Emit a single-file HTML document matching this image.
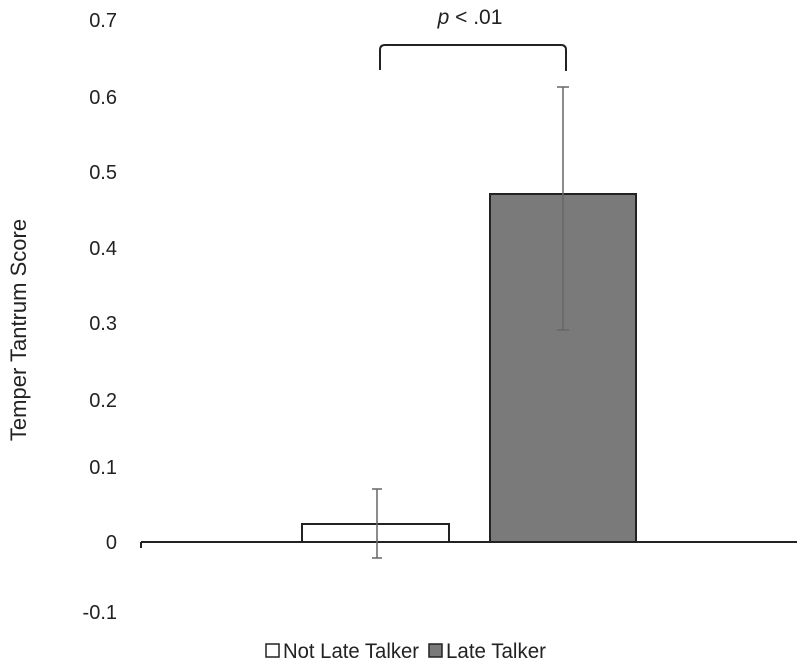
<!DOCTYPE html>
<html><head><style>body{margin:0;background:#fff}svg{display:block}</style></head><body>
<svg width="800" height="670" xmlns="http://www.w3.org/2000/svg" font-family="Liberation Sans, Arial, sans-serif" fill="#222">
<g font-size="20" text-anchor="end">
<text x="117" y="27">0.7</text>
<text x="117" y="104">0.6</text>
<text x="117" y="179">0.5</text>
<text x="117" y="255">0.4</text>
<text x="117" y="330">0.3</text>
<text x="117" y="407">0.2</text>
<text x="117" y="474">0.1</text>
<text x="117" y="549">0</text>
<text x="117" y="619">-0.1</text>
</g>
<text transform="translate(26,330) rotate(-90)" font-size="22" text-anchor="middle">Temper Tantrum Score</text>
<rect x="302" y="524" width="147" height="18" fill="#fff" stroke="#222" stroke-width="2"/>
<rect x="490" y="194" width="146" height="348" fill="#7a7a7a" stroke="#222" stroke-width="2"/>
<line x1="141" y1="542" x2="797" y2="542" stroke="#222" stroke-width="2"/>
<line x1="141" y1="542" x2="141" y2="548" stroke="#222" stroke-width="2"/>
<g stroke="#666" stroke-width="1.5">
<line x1="377" y1="489" x2="377" y2="558"/><line x1="372" y1="489" x2="382" y2="489"/><line x1="372" y1="558" x2="382" y2="558"/>
<line x1="563" y1="87" x2="563" y2="330"/><line x1="557" y1="87" x2="569" y2="87"/><line x1="557" y1="330" x2="569" y2="330"/>
</g>
<path d="M380 70 V50 Q380 45 385 45 H561 Q566 45 566 50 V71" fill="none" stroke="#222" stroke-width="2"/>
<text x="470" y="24" font-size="21" text-anchor="middle"><tspan font-style="italic">p</tspan> &lt; .01</text>
<rect x="266" y="644" width="13" height="13" fill="#fff" stroke="#222" stroke-width="1.5"/>
<text x="283" y="658" font-size="21" textLength="136" lengthAdjust="spacingAndGlyphs">Not Late Talker</text>
<rect x="429" y="644" width="13" height="13" fill="#7a7a7a" stroke="#222" stroke-width="1.5"/>
<text x="446" y="658" font-size="21" textLength="100" lengthAdjust="spacingAndGlyphs">Late Talker</text>
</svg>
</body></html>
